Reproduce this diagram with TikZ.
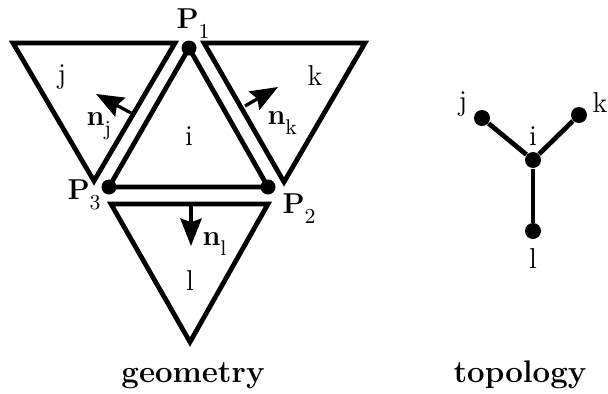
\documentclass[tikz,border=0pt]{standalone}
\usepackage{tikz}
\usetikzlibrary{arrows.meta}

% label with a dropped subscript
\newcommand{\lowsub}[2]{#1\raisebox{-4pt}{\fontsize{8.5}{10}\selectfont #2}}

\begin{document}
\begin{tikzpicture}[x=0.4pt, y=-0.4pt, >={Stealth[length=11pt,width=8.5pt,inset=1.5pt]},
  tri/.style={line width=1.9pt},
  vtx/.style={circle, fill, inner sep=0pt, minimum size=6pt},
  tvtx/.style={circle, fill, inner sep=0pt, minimum size=6.4pt},
  nvec/.style={->, line width=1.3pt},
  lbl/.style={inner sep=0pt, font=\fontsize{11.5}{14}\selectfont},
  caption/.style={inner sep=0pt, anchor=base, font=\fontsize{12.5}{15}\selectfont\bfseries}]

\useasboundingbox (0,0) rectangle (608,394);

% --- GEOMETRY ---
% neighbouring triangles
\draw[tri] (13,43) -- (175,43) -- (94,181) -- cycle;
\draw[tri] (204,43) -- (365,43) -- (284,182) -- cycle;
\draw[tri] (111,204) -- (268,204) -- (190,342) -- cycle;

% central triangle i
\node[vtx] (P1) at (189,48) {};
\node[vtx] (P2) at (268,187) {};
\node[vtx] (P3) at (109,187) {};
\draw[tri] (P1.center) -- (P2.center) -- (P3.center) -- cycle;

% vertex labels
\node[lbl, anchor=base west] (lP1) at (176,28) {\lowsub{\textbf{P}}{1}};
\node[lbl, anchor=base west] (lP2) at (282,213) {\lowsub{\textbf{P}}{2}};
\node[lbl, anchor=base west] (lP3) at (67,199) {\lowsub{\textbf{P}}{3}};

% triangle names
\node[lbl, anchor=base] (gi) at (189,145) {i};
\node[lbl, anchor=base] (gj) at (62,83) {j};
\node[lbl, anchor=base] (gk) at (315,85) {k};
\node[lbl, anchor=base] (gl) at (190,290) {l};

% normals
\coordinate (nj0) at (131,113);
\coordinate (nj1) at (96,94);
\coordinate (nk0) at (245,106);
\coordinate (nk1) at (278,87);
\coordinate (nl0) at (191,204);
\coordinate (nl1) at (191,246);
\draw[nvec] (nj0) -- (nj1);
\draw[nvec] (nk0) -- (nk1);
\draw[nvec] (nl0) -- (nl1);
\node[lbl, anchor=base west] (lnj) at (86,125) {\lowsub{\textbf{n}}{j}};
\node[lbl, anchor=base west] (lnk) at (267,124) {\lowsub{\textbf{n}}{k}};
\node[lbl, anchor=base west] (lnl) at (202,245) {\lowsub{\textbf{n}}{l}};

\node[caption] (geo) at (193,382) {geometry};

% --- TOPOLOGY ---
\node[tvtx] (ti) at (533,160) {};
\node[tvtx] (tj) at (482,118) {};
\node[tvtx] (tk) at (579,115) {};
\node[tvtx] (tl) at (533,231) {};
\draw[tri] (ti) -- (tj);
\draw[tri] (ti) -- (tk);
\draw[tri] (ti) -- (tl);

\node[lbl, anchor=base] (lti) at (533,145) {i};
\node[lbl, anchor=base] (ltj) at (463,110) {j};
\node[lbl, anchor=base] (ltk) at (600,112) {k};
\node[lbl, anchor=base] (ltl) at (533,268) {l};

\node[caption] (topo) at (520,382) {topology};

\end{tikzpicture}
\end{document}
